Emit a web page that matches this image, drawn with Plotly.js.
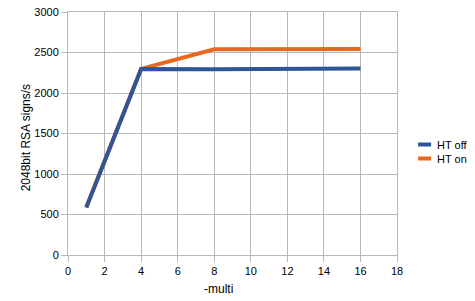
<!DOCTYPE html>
<html><head><meta charset="utf-8">
<script src="https://cdn.plot.ly/plotly-3.0.1.min.js"></script>
<style>html,body{margin:0;padding:0;background:#fff}#c{width:475px;height:301px}</style>
</head><body><div id="c"></div>
<script>
var multi = [1, 4, 8, 16];
var htOff = [585, 2297, 2292, 2302];
var htOn = [592, 2297, 2540, 2543];
var seriesNames = ["HT off", "HT on"];
var xTicks = [0, 2, 4, 6, 8, 10, 12, 14, 16, 18];
var yTicks = [0, 500, 1000, 1500, 2000, 2500, 3000];
var xTitle = "-multi";
var yTitle = "2048bit RSA signs/s";

var traces = [
  {x: multi, y: htOn, name: seriesNames[1], legendrank: 2, mode: "lines", line: {color: "#e8681f", width: 4}},
  {x: multi, y: htOff, name: seriesNames[0], legendrank: 1, mode: "lines", line: {color: "#2f5597", width: 4}}
];
var axisCommon = {
  showgrid: true, gridcolor: "#b8b8b8", gridwidth: 1,
  showline: true, linecolor: "#b8b8b8", linewidth: 1, mirror: true,
  ticks: "outside", ticklen: 6, tickcolor: "#b8b8b8",
  zeroline: false, tickfont: {family: "Liberation Sans, Arial, sans-serif", size: 11, color: "#000"}
};
var layout = {
  width: 475, height: 301,
  margin: {l: 68, r: 76, t: 12, b: 46},
  paper_bgcolor: "#fff", plot_bgcolor: "#fff",
  font: {family: "Liberation Sans, Arial, sans-serif", size: 11, color: "#000"},
  xaxis: Object.assign({}, axisCommon, {range: [0, 18], tickvals: xTicks, ticktext: xTicks.map(String)}),
  yaxis: Object.assign({}, axisCommon, {range: [0, 3000], tickvals: yTicks, ticktext: yTicks.map(String)}),
  annotations: [
    {text: xTitle, xref: "paper", yref: "paper", x: 0.456, y: -0.14, xanchor: "center", yanchor: "middle",
     showarrow: false, font: {size: 12}},
    {text: yTitle, xref: "paper", yref: "paper", x: -0.127, y: 0.481, xanchor: "center", yanchor: "middle",
     textangle: -90, showarrow: false, font: {size: 12}}
  ],
  showlegend: true,
  legend: {xref: "container", yref: "container", x: 0.836, y: 0.495, xanchor: "left", yanchor: "middle",
    font: {size: 11}, bgcolor: "rgba(0,0,0,0)", tracegroupgap: 0, itemwidth: 30, traceorder: "normal"}
};
Plotly.newPlot("c", traces, layout, {displayModeBar: false, staticPlot: true}).then(function(gd){
  var paths = gd.querySelectorAll('.legend .legendlines path');
  paths.forEach(function(p){ p.setAttribute('d', 'M21,0h13'); });
  var items = gd.querySelectorAll('.legend .traces');
  if (items.length === 2) {
    var m = /translate\(([-\d.]+),\s*([-\d.]+)\)/.exec(items[0].getAttribute('transform') || '');
    if (m) {
      var y0 = parseFloat(m[2]) + 2;
      items[0].setAttribute('transform', 'translate(' + m[1] + ',' + y0 + ')');
      items[1].setAttribute('transform', 'translate(' + m[1] + ',' + (y0 + 14) + ')');
    }
  }
});
</script></body></html>
